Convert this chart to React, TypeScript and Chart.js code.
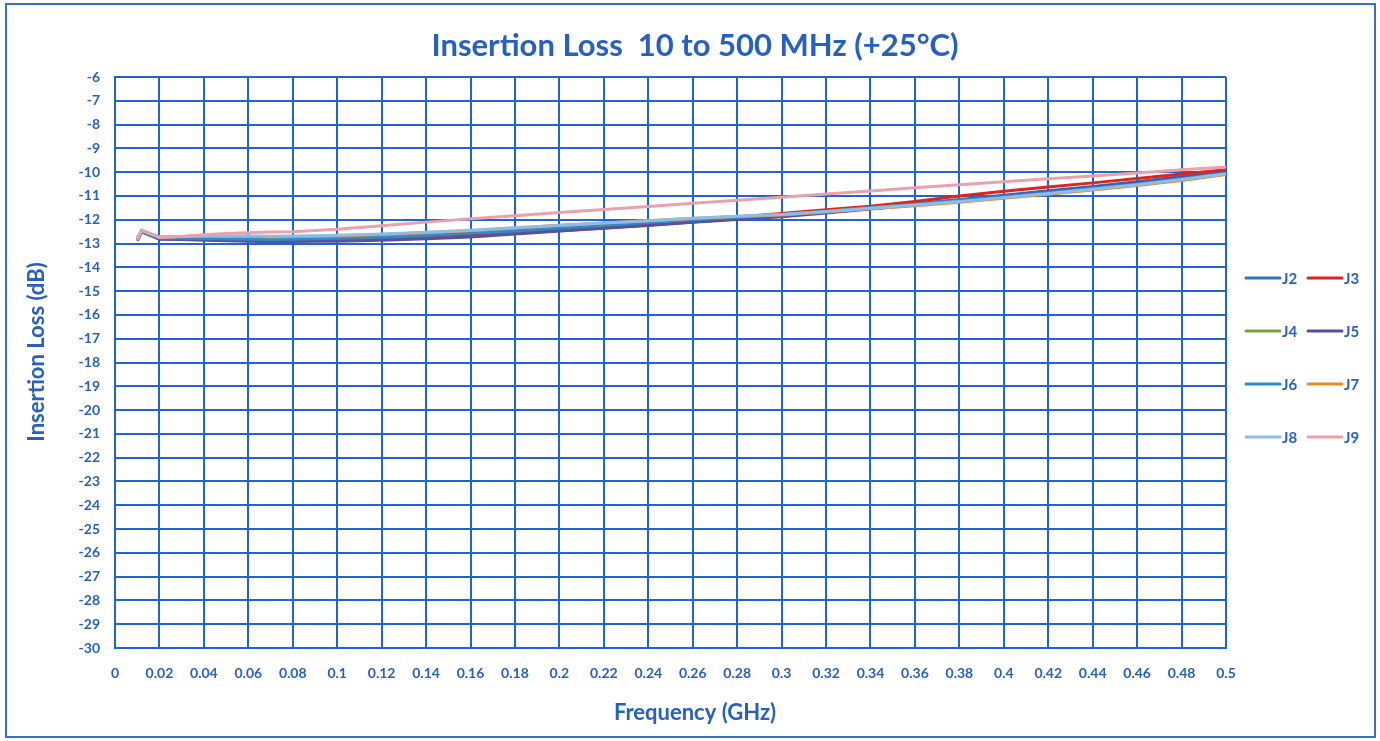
import React, { useEffect, useRef } from "react";
import { Chart, registerables } from "chart.js";

Chart.register(...registerables);

const TITLE = "Insertion Loss  10 to 500 MHz (+25°C)";
const X_TITLE = "Frequency (GHz)";
const Y_TITLE = "Insertion Loss (dB)";

const FREQ = [0.01, 0.012, 0.015, 0.02, 0.03, 0.04, 0.05, 0.06, 0.07, 0.08, 0.09, 0.1, 0.12, 0.14, 0.16, 0.18, 0.2, 0.22, 0.24, 0.26, 0.28, 0.3, 0.32, 0.34, 0.36, 0.38, 0.4, 0.42, 0.44, 0.46, 0.48, 0.5];

const SERIES_NAMES = ["J2", "J3", "J4", "J5", "J6", "J7", "J8", "J9"];
const SERIES_COLORS = ["#2E75C0", "#E0231E", "#7CA23A", "#5A4E9E", "#2A8CC8", "#E58A2E", "#8FBCE4", "#E9A2AB"];

const J2 = [-12.85, -12.5, -12.6, -12.8, -12.8, -12.82, -12.85, -12.86, -12.88, -12.88, -12.87, -12.85, -12.82, -12.76, -12.68, -12.58, -12.46, -12.35, -12.22, -12.09, -11.96, -11.82, -11.66, -11.5, -11.33, -11.15, -10.97, -10.78, -10.6, -10.4, -10.18, -9.95];
const J3 = [-12.8, -12.48, -12.58, -12.78, -12.78, -12.79, -12.8, -12.8, -12.82, -12.8, -12.8, -12.78, -12.75, -12.68, -12.6, -12.5, -12.38, -12.27, -12.15, -12.02, -11.88, -11.74, -11.58, -11.43, -11.23, -11.0, -10.8, -10.62, -10.45, -10.27, -10.08, -9.9];
const J4 = [-12.82, -12.5, -12.6, -12.75, -12.75, -12.74, -12.76, -12.77, -12.78, -12.76, -12.75, -12.73, -12.68, -12.6, -12.52, -12.42, -12.3, -12.2, -12.09, -11.98, -11.87, -11.78, -11.64, -11.5, -11.36, -11.21, -11.05, -10.88, -10.7, -10.52, -10.3, -10.05];
const J5 = [-12.88, -12.52, -12.62, -12.82, -12.83, -12.86, -12.88, -12.9, -12.92, -12.91, -12.9, -12.9, -12.86, -12.8, -12.72, -12.6, -12.47, -12.36, -12.24, -12.11, -11.99, -11.87, -11.72, -11.55, -11.38, -11.19, -11.0, -10.82, -10.63, -10.43, -10.22, -10.0];
const J6 = [-12.84, -12.5, -12.6, -12.78, -12.78, -12.8, -12.8, -12.82, -12.83, -12.82, -12.8, -12.78, -12.74, -12.66, -12.57, -12.47, -12.35, -12.24, -12.12, -12.0, -11.89, -11.79, -11.65, -11.5, -11.35, -11.19, -11.03, -10.86, -10.68, -10.5, -10.28, -10.05];
const J7 = [-12.8, -12.45, -12.55, -12.72, -12.7, -12.68, -12.7, -12.7, -12.72, -12.7, -12.7, -12.68, -12.62, -12.55, -12.46, -12.35, -12.23, -12.14, -12.04, -11.95, -11.86, -11.8, -11.67, -11.54, -11.41, -11.26, -11.1, -10.93, -10.75, -10.56, -10.35, -10.1];
const J8 = [-12.78, -12.46, -12.56, -12.72, -12.7, -12.68, -12.68, -12.68, -12.69, -12.68, -12.67, -12.65, -12.6, -12.53, -12.44, -12.34, -12.24, -12.14, -12.04, -11.94, -11.85, -11.78, -11.65, -11.52, -11.38, -11.23, -11.07, -10.9, -10.72, -10.53, -10.31, -10.07];
const J9 = [-12.85, -12.45, -12.55, -12.75, -12.7, -12.63, -12.58, -12.55, -12.52, -12.5, -12.45, -12.4, -12.25, -12.1, -11.96, -11.83, -11.7, -11.57, -11.44, -11.31, -11.18, -11.05, -10.92, -10.79, -10.66, -10.53, -10.4, -10.28, -10.16, -10.03, -9.9, -9.78];

const SERIES_VALUES = [J2, J3, J4, J5, J6, J7, J8, J9];

const X_MIN = 0;
const X_MAX = 0.5;
const X_STEP = 0.02;
const Y_MIN = -30;
const Y_MAX = -6;
const Y_STEP = 1;

const TEXT_COLOR = "#2760C4";
const GRID_COLOR = "#1F64D0";
const FONT = "Lato, 'Open Sans', sans-serif";

const decorPlugin = {
  id: "decor",
  beforeDraw(chart: any) {
    const { ctx, width, height } = chart;
    ctx.save();
    ctx.fillStyle = "#ffffff";
    ctx.fillRect(0, 0, width, height);
    ctx.strokeStyle = "#3A6FC8";
    ctx.lineWidth = 2;
    ctx.strokeRect(6, 4, 1369, 733);
    ctx.restore();
  },
  afterDraw(chart: any) {
    const { ctx } = chart;
    ctx.save();
    ctx.fillStyle = TEXT_COLOR;
    ctx.textAlign = "center";
    ctx.textBaseline = "middle";
    ctx.font = `bold 31px ${FONT}`;
    ctx.fillText(TITLE, 695, 46);
    ctx.font = `bold 22px ${FONT}`;
    ctx.fillText(X_TITLE, 695, 713);
    ctx.save();
    ctx.translate(37, 352);
    ctx.rotate(-Math.PI / 2);
    ctx.font = `bold 22px ${FONT}`;
    ctx.fillText(Y_TITLE, 0, 0);
    ctx.restore();

    // legend, two columns
    const cols = [1246, 1308];
    const rows = [278, 331, 384, 437];
    ctx.font = `bold 15px ${FONT}`;
    ctx.textAlign = "left";
    chart.data.datasets.forEach((ds: any, i: number) => {
      const cx = cols[i % 2];
      const cy = rows[Math.floor(i / 2)];
      ctx.strokeStyle = ds.borderColor;
      ctx.lineWidth = 3;
      ctx.lineCap = "round";
      ctx.beginPath();
      ctx.moveTo(cx, cy);
      ctx.lineTo(cx + 34, cy);
      ctx.stroke();
      ctx.fillStyle = TEXT_COLOR;
      ctx.fillText(ds.label, cx + 36, cy + 1);
    });
    ctx.restore();
  },
};

export default function App() {
  const ref = useRef<HTMLCanvasElement | null>(null);

  useEffect(() => {
    document.body.style.margin = "0";
    if (!ref.current) return;
    const datasets = SERIES_NAMES.map((name, i) => ({
      label: name,
      data: FREQ.map((f, k) => ({ x: f, y: SERIES_VALUES[i][k] })),
      borderColor: SERIES_COLORS[i],
      backgroundColor: SERIES_COLORS[i],
      borderWidth: 3,
      pointRadius: 0,
      tension: 0,
      order: SERIES_NAMES.length - i,
    }));
    const chart = new Chart(ref.current, {
      type: "line",
      data: { datasets },
      plugins: [decorPlugin],
      options: {
        animation: false,
        responsive: false,
        layout: { padding: { left: 8, right: 154, top: 77, bottom: 0 } },
        plugins: { legend: { display: false }, title: { display: false }, tooltip: { enabled: false } },
        scales: {
          x: {
            type: "linear",
            min: X_MIN,
            max: X_MAX,
            afterFit: (s: any) => { s.height = 93; },
            afterBuildTicks: (s: any) => {
              const t = [];
              for (let k = 0; k <= Math.round((X_MAX - X_MIN) / X_STEP); k++) t.push({ value: +(X_MIN + k * X_STEP).toFixed(2) });
              s.ticks = t;
            },
            ticks: {
              autoSkip: false,
              maxRotation: 0,
              padding: 17,
              color: TEXT_COLOR,
              font: { family: FONT, size: 14, weight: "bold" },
              callback: (v: any) => String(+Number(v).toFixed(2)),
            },
            grid: { color: GRID_COLOR, lineWidth: 2, drawTicks: false },
            border: { color: GRID_COLOR, width: 2 },
          },
          y: {
            type: "linear",
            min: Y_MIN,
            max: Y_MAX,
            afterFit: (s: any) => { s.width = 107; },
            ticks: {
              stepSize: Y_STEP,
              autoSkip: false,
              padding: 15,
              color: TEXT_COLOR,
              font: { family: FONT, size: 14, weight: "bold" },
            },
            grid: { color: GRID_COLOR, lineWidth: 2, drawTicks: false },
            border: { color: GRID_COLOR, width: 2 },
          },
        },
      },
    } as any);
    return () => chart.destroy();
  }, []);

  return (
    <div style={{ width: 1380, height: 741, overflow: "hidden", position: "relative" }}>
      <canvas ref={ref} width={1380} height={741} style={{ display: "block" }} />
    </div>
  );
}
